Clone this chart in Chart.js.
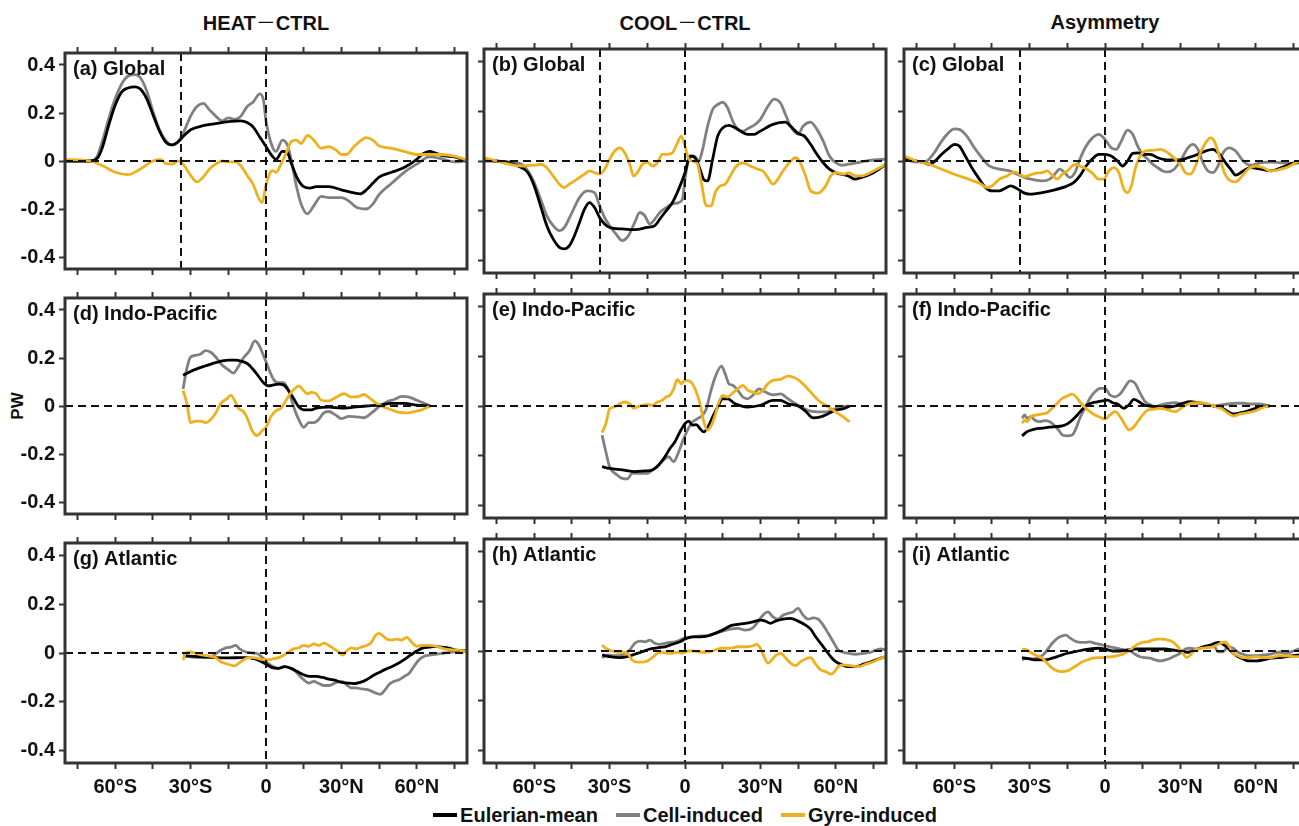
<!DOCTYPE html>
<html>
<head>
<meta charset="utf-8">
<script src="https://cdn.jsdelivr.net/npm/chart.js@4.4.1/dist/chart.umd.min.js"></script>
<style>
  body { margin: 0; width: 1299px; height: 826px; overflow: hidden; background: #fff; position: relative;
         font-family: "Liberation Sans", Arial, sans-serif; font-weight: bold; color: #111; }
  canvas { position: absolute; }
  .coltitle { position: absolute; top: 10px; width: 402px; text-align: center; font-size: 20px; line-height: 24px; }
  .coltitle .dash { font-family: "Noto Sans CJK SC", sans-serif; font-weight: normal; }
  #pw { position: absolute; left: -2px; top: 396px; width: 40px; text-align: center; font-size: 17px; line-height: 20px; transform: rotate(-90deg); }
  #legend { position: absolute; top: 803px; left: 385px; width: 600px; display: flex; justify-content: center; font-size: 20px; line-height: 24px; }
  #legend span.item { display: inline-flex; align-items: center; margin: 0 9px; }
  #legend span.sw { display: inline-block; width: 24px; height: 4px; margin-right: 3px; }
</style>
</head>
<body>
<div class="coltitle" style="left:65px">HEAT<span class="dash">－</span>CTRL</div>
<div class="coltitle" style="left:484px">COOL<span class="dash">－</span>CTRL</div>
<div class="coltitle" style="left:904px">Asymmetry</div>
<div id="pw">PW</div>
<div id="legend">
  <span class="item"><span class="sw" style="background:#000"></span>Eulerian-mean</span>
  <span class="item"><span class="sw" style="background:#808080"></span>Cell-induced</span>
  <span class="item"><span class="sw" style="background:#EDB120"></span>Gyre-induced</span>
</div>

<script>
// 経度ごとの熱輸送 [緯度, PW]
var heatGlobalEul = [[-80,0],[-70,0],[-67,0.013],[-65,0.06],[-62.5,0.153],[-60,0.233],[-57.5,0.287],[-55,0.304],[-52,0.309],[-50,0.30],[-47.5,0.26],[-45,0.193],[-42.5,0.127],[-40,0.08],[-37.5,0.067],[-35,0.08],[-32.5,0.107],[-30,0.13],[-25,0.147],[-20,0.156],[-15,0.164],[-10,0.167],[-7.5,0.16],[-5,0.14],[-2.5,0.10],[0,0.06],[2.5,0.02],[4,0.007],[6.5,0.04],[8.5,0.035],[10,-0.007],[12.5,-0.073],[15,-0.107],[17.5,-0.113],[20,-0.107],[25,-0.107],[30,-0.12],[35,-0.133],[37.5,-0.137],[40,-0.12],[42.5,-0.093],[45,-0.067],[50,-0.047],[55,-0.027],[60,0.007],[62.5,0.03],[65,0.04],[67.5,0.033],[70,0.023],[75,0.017],[80,0]];
var heatGlobalCell = [[-80,0],[-70,0],[-67.5,0.013],[-65,0.087],[-62.5,0.18],[-60,0.26],[-57.5,0.32],[-55,0.353],[-52,0.36],[-50,0.347],[-47.5,0.293],[-45,0.207],[-42.5,0.133],[-40,0.087],[-37.5,0.067],[-35,0.08],[-32.5,0.127],[-30,0.187],[-27.5,0.227],[-25,0.24],[-22.5,0.213],[-20,0.187],[-17.5,0.167],[-15,0.18],[-12.5,0.173],[-10,0.187],[-7.5,0.227],[-5,0.247],[-2.5,0.28],[-1,0.253],[0,0.167],[2.5,0.06],[4,0.04],[6.5,0.087],[8.5,0.067],[10,0.007],[12,-0.1],[14,-0.18],[16.5,-0.22],[19,-0.187],[22,-0.147],[25,-0.153],[30,-0.153],[33,-0.167],[36,-0.193],[40,-0.2],[42.5,-0.18],[45,-0.14],[50,-0.093],[55,-0.047],[60,-0.013],[65,0.017],[70,0.009],[75,-0.004],[80,0]];
var heatGlobalGyre = [[-80,0.007],[-70,0],[-65,-0.02],[-60,-0.047],[-55,-0.057],[-50,-0.033],[-45,0],[-42,0.007],[-40,-0.01],[-37.5,-0.013],[-35,0],[-32.5,-0.02],[-30,-0.06],[-27.5,-0.087],[-25,-0.067],[-22.5,-0.033],[-20,-0.013],[-17.5,0],[-15,-0.004],[-12.5,-0.004],[-10,-0.02],[-7.5,-0.06],[-5,-0.1],[-3,-0.153],[-1.5,-0.173],[0,-0.1],[2.5,-0.04],[4,-0.047],[6,-0.013],[8,0.033],[10,0.08],[12,0.087],[14,0.073],[16.5,0.107],[19,0.087],[22,0.053],[25,0.06],[28,0.044],[30,0.027],[32,0.027],[35,0.06],[38,0.087],[40,0.097],[42.5,0.087],[45,0.063],[50,0.053],[55,0.04],[60,0.027],[65,0.027],[70,0.027],[75,0.02],[80,0.004]];

var coolGlobalEul = [[-80,0.007],[-75,0],[-70,-0.007],[-65,-0.027],[-62.5,-0.047],[-60,-0.1],[-57.5,-0.18],[-55,-0.26],[-52.5,-0.313],[-50,-0.347],[-48,-0.353],[-46,-0.34],[-44,-0.3],[-42,-0.247],[-40,-0.193],[-38,-0.167],[-36,-0.187],[-34,-0.227],[-32,-0.253],[-30,-0.267],[-25,-0.273],[-20,-0.276],[-15,-0.267],[-12,-0.26],[-10,-0.233],[-7.5,-0.2],[-5,-0.167],[-2.5,-0.113],[0,-0.047],[2,0.02],[4,0.013],[6,-0.033],[7.5,-0.075],[9,-0.08],[11,0.007],[13,0.1],[15,0.133],[17.5,0.143],[20,0.133],[25,0.107],[27.5,0.107],[30,0.12],[35,0.147],[40,0.156],[42,0.14],[45,0.111],[47.5,0.1],[50,0.067],[52.5,0.027],[55,-0.007],[57.5,-0.033],[60,-0.047],[65,-0.06],[67.5,-0.073],[70,-0.067],[75,-0.047],[80,-0.013]];
var coolGlobalCell = [[-80,0],[-70,-0.004],[-65,-0.013],[-62.5,-0.04],[-60,-0.087],[-57.5,-0.153],[-55,-0.22],[-52.5,-0.26],[-50,-0.28],[-48,-0.267],[-45,-0.207],[-42,-0.147],[-39,-0.12],[-36,-0.127],[-34,-0.18],[-32,-0.227],[-30,-0.26],[-27.5,-0.293],[-25,-0.32],[-22.5,-0.3],[-20,-0.247],[-18,-0.207],[-16,-0.22],[-14,-0.253],[-12,-0.233],[-10,-0.207],[-7.5,-0.187],[-5,-0.173],[-2.5,-0.167],[-1,-0.153],[0,-0.073],[1.5,0.007],[3.5,0.02],[5.5,0],[7,0.047],[9,0.14],[11,0.207],[13,0.227],[15,0.236],[17,0.213],[19,0.16],[21,0.127],[23,0.12],[25,0.13],[28,0.147],[30,0.167],[33,0.22],[35.5,0.249],[38,0.233],[40,0.187],[42,0.14],[45,0.107],[47,0.14],[50,0.156],[52.5,0.127],[55,0.08],[57.5,0.02],[60,-0.007],[62.5,-0.017],[65,-0.013],[70,-0.004],[75,0.004],[80,0.007]];
var coolGlobalGyre = [[-80,0.013],[-75,0],[-70,-0.013],[-65,-0.02],[-60,-0.017],[-57.5,-0.013],[-55,-0.027],[-52.5,-0.06],[-50,-0.093],[-48,-0.107],[-46,-0.093],[-43,-0.073],[-40,-0.053],[-38,-0.04],[-36,-0.047],[-34,-0.053],[-32,-0.033],[-30,0.007],[-28,0.04],[-26,0.053],[-24,0.033],[-22,-0.013],[-20.5,-0.06],[-19,-0.047],[-17,-0.013],[-15,-0.004],[-13,-0.02],[-11,-0.007],[-9,0.027],[-7,0.027],[-5,0.033],[-3,0.073],[-1.5,0.1],[0,0.06],[1.5,0.007],[3,0],[5,-0.013],[6.5,-0.087],[8.5,-0.18],[10.5,-0.18],[12,-0.127],[14,-0.1],[16,-0.093],[18,-0.06],[20.5,-0.02],[23,-0.007],[26,-0.02],[29,-0.033],[31,-0.04],[33,-0.067],[35,-0.093],[37,-0.073],[39,-0.04],[41.5,-0.007],[44,0.013],[45.5,0],[48,-0.06],[50,-0.12],[53,-0.129],[56,-0.1],[58,-0.06],[60,-0.047],[63,-0.053],[65,-0.047],[68,-0.06],[70,-0.06],[75,-0.04],[80,-0.013]];

var asymGlobalEul = [[-80,0.013],[-75,0],[-72,-0.007],[-70,-0.013],[-68,-0.004],[-65,0.027],[-62,0.053],[-60,0.067],[-58,0.06],[-56,0.027],[-53,-0.027],[-50,-0.073],[-47.5,-0.107],[-45,-0.12],[-42,-0.12],[-40,-0.111],[-37.5,-0.1],[-35,-0.111],[-32.5,-0.127],[-30,-0.133],[-25,-0.127],[-20,-0.116],[-15,-0.1],[-12.5,-0.087],[-10,-0.06],[-7.5,-0.02],[-5,0.009],[-2.5,0.027],[0,0.027],[2.5,0.02],[5,0],[7,-0.02],[9,0],[11,0.031],[13,0.033],[15,0.027],[18,0.027],[21,0.013],[25,0.004],[30,0.004],[33,0.013],[36,0.023],[40,0.04],[43,0.047],[45,0.033],[48,-0.007],[50,-0.033],[52,-0.057],[55,-0.04],[58,-0.027],[62,-0.033],[66,-0.04],[70,-0.027],[75,-0.009],[80,-0.004]];
var asymGlobalCell = [[-80,0.007],[-75,-0.004],[-71,0],[-68,0.033],[-65,0.08],[-62,0.116],[-60,0.129],[-58,0.127],[-55,0.1],[-52,0.053],[-49,0.013],[-46,-0.02],[-42,-0.033],[-38,-0.04],[-35,-0.053],[-32,-0.067],[-28,-0.076],[-25,-0.08],[-22,-0.073],[-20,-0.053],[-18,-0.033],[-16,-0.047],[-14,-0.067],[-12,-0.047],[-10,0.007],[-7.5,0.06],[-5,0.093],[-2.5,0.107],[0,0.087],[2.5,0.053],[4.5,0.047],[6.5,0.08],[9,0.124],[11,0.107],[13,0.06],[15,0.027],[17,0.007],[19,-0.013],[21,-0.027],[23,-0.04],[25,-0.044],[27.5,-0.033],[30,0],[33,0.053],[35,0.067],[37,0.047],[39,-0.007],[41,-0.04],[43,-0.047],[45,-0.02],[47,0.033],[49.5,0.053],[52,0.04],[55,0],[58,-0.017],[62,-0.007],[66,-0.004],[70,-0.007],[75,-0.009],[80,0.007]];
var asymGlobalGyre = [[-80,0.02],[-75,0],[-70,-0.013],[-65,-0.033],[-60,-0.053],[-55,-0.071],[-50,-0.089],[-47,-0.107],[-45,-0.1],[-42,-0.073],[-39,-0.06],[-36,-0.044],[-34,-0.053],[-32,-0.063],[-30,-0.057],[-27.5,-0.049],[-25,-0.047],[-23,-0.04],[-21,-0.057],[-19,-0.073],[-17,-0.053],[-15,-0.04],[-13,-0.02],[-11.5,-0.013],[-10,-0.02],[-7.5,-0.031],[-5,-0.049],[-2.5,-0.073],[-0.5,-0.073],[1.5,-0.04],[3.5,-0.027],[5.5,-0.047],[7.5,-0.113],[9,-0.127],[10.5,-0.1],[12,-0.033],[14,0.02],[16,0.04],[19,0.043],[22,0.047],[25,0.033],[28,0.007],[30,-0.013],[32,-0.047],[34,-0.053],[36,-0.02],[38,0.033],[40.5,0.08],[42,0.093],[43.5,0.08],[45.5,0.02],[47.5,-0.047],[50,-0.08],[52,-0.084],[54,-0.067],[57,-0.033],[60,-0.02],[63,-0.027],[66,-0.04],[70,-0.033],[73,-0.023],[76,-0.007],[80,0]];

var heatIndoEul = [[-33,0.128],[-30,0.144],[-25,0.164],[-20,0.181],[-15,0.191],[-12,0.191],[-10,0.187],[-7.5,0.177],[-5,0.151],[-3,0.124],[-1,0.097],[1,0.084],[3,0.088],[5,0.091],[7,0.088],[9,0.064],[11,0.031],[13,-0.003],[15,-0.016],[18,-0.016],[20,-0.009],[25,-0.005],[30,-0.009],[35,-0.005],[40,0],[45,0.004],[50,0.011],[55,0.011],[60,0.004],[65,0]];
var heatIndoCell = [[-33,0.071],[-31.5,0.157],[-30,0.204],[-28,0.211],[-26,0.217],[-24,0.231],[-22,0.224],[-20,0.204],[-17.5,0.171],[-15,0.151],[-13,0.137],[-11,0.164],[-9,0.2],[-6.5,0.231],[-4.5,0.271],[-3,0.257],[-1,0.211],[1,0.157],[3,0.111],[5,0.097],[7,0.097],[9,0.064],[11,-0.003],[13,-0.056],[15,-0.089],[17,-0.069],[19,-0.069],[21,-0.056],[23,-0.029],[25,-0.023],[27.5,-0.036],[30,-0.053],[33,-0.043],[36,-0.045],[39,-0.049],[42,-0.029],[45,-0.003],[48,0.017],[51,0.027],[54,0.04],[57,0.037],[60,0.024],[63,0.011],[65.5,0]];
var heatIndoGyre = [[-33,0.064],[-31.5,0.011],[-30,-0.069],[-28,-0.063],[-26,-0.063],[-24,-0.069],[-22,-0.056],[-20,-0.029],[-18,0.011],[-15.5,0.031],[-14,0.044],[-12.5,0.024],[-11,-0.009],[-9,-0.023],[-7.5,-0.049],[-5.5,-0.103],[-3.5,-0.123],[-1.5,-0.103],[0,-0.089],[2,-0.043],[4,-0.019],[6,-0.009],[8,0.024],[10,0.057],[12,0.077],[13,0.084],[15,0.064],[16.5,0.051],[18,0.057],[20,0.051],[22,0.024],[25,0.021],[28,0.037],[31,0.051],[34,0.037],[37,0.04],[39,0.048],[41.5,0.031],[44,0.011],[47,-0.005],[50,-0.016],[53,-0.027],[56,-0.029],[59,-0.023],[62,-0.016],[65.5,0]];

var coolIndoEul = [[-33,-0.244],[-30,-0.251],[-25,-0.257],[-20,-0.264],[-16,-0.261],[-13,-0.257],[-10.5,-0.237],[-8,-0.204],[-6,-0.171],[-4,-0.144],[-2,-0.104],[0,-0.071],[1.5,-0.061],[3,-0.077],[4.5,-0.075],[6,-0.091],[7.5,-0.104],[9.5,-0.077],[11,-0.044],[13,-0.004],[15,0.029],[17,0.029],[20,0.009],[25,-0.004],[30,0.003],[35,0.023],[38,0.023],[41,0.009],[45,0],[48,-0.021],[51,-0.048],[54,-0.044],[57,-0.031],[60,-0.017],[63,-0.011],[65.5,0]];
var coolIndoCell = [[-33,-0.117],[-31.5,-0.184],[-30,-0.244],[-27,-0.277],[-25,-0.291],[-23,-0.293],[-21,-0.271],[-19,-0.271],[-17,-0.271],[-15,-0.271],[-13,-0.257],[-11,-0.244],[-8.5,-0.217],[-6.5,-0.204],[-4.5,-0.224],[-3,-0.197],[-1,-0.144],[1,-0.097],[3,-0.064],[5,-0.051],[7,-0.037],[8.5,-0.011],[10,0.049],[12,0.116],[14.5,0.16],[16,0.129],[17.5,0.089],[19,0.083],[21,0.063],[23,0.036],[25,0.029],[27,0.043],[29.5,0.069],[32,0.056],[35,0.045],[38,0.049],[41,0.029],[44,0.009],[47,-0.008],[50,-0.021],[53,-0.024],[56,-0.024],[59,-0.013],[62,-0.004],[65,0]];
var coolIndoGyre = [[-33,-0.107],[-31.5,-0.071],[-30,-0.011],[-28,-0.004],[-26,0.009],[-24,0.016],[-22,0.009],[-20.5,-0.008],[-19,-0.004],[-17,0.003],[-15,0.005],[-13,0.003],[-11,0.016],[-9,0.023],[-7.5,0.036],[-6,0.043],[-4.5,0.069],[-3,0.107],[-1.5,0.089],[0,0.103],[2,0.099],[4,0.069],[6,0.009],[7.5,-0.064],[9,-0.097],[10.5,-0.077],[12,-0.037],[13.5,0.016],[15,0.043],[17,0.036],[19,0.053],[21,0.069],[23,0.083],[25,0.063],[27,0.056],[29,0.049],[31,0.063],[33,0.089],[35,0.103],[38,0.107],[41,0.12],[44,0.112],[47,0.089],[50,0.056],[53,0.023],[56,0.003],[59,-0.017],[62,-0.037],[65.5,-0.064]];

var asymIndoEul = [[-33,-0.12],[-31,-0.103],[-28,-0.093],[-25,-0.089],[-22,-0.085],[-20,-0.083],[-17,-0.08],[-15,-0.072],[-13,-0.056],[-11,-0.036],[-9,-0.013],[-7,0.004],[-5,0.013],[-3,0.017],[-1,0.021],[1,0.024],[3,0.013],[5,0.008],[7.5,-0.009],[9.5,0.004],[11.5,0.027],[13.5,0.017],[15.5,0.004],[18,0],[21,-0.003],[25,-0.005],[28,0],[31,0.011],[34,0.017],[37,0.013],[40,0.008],[43,0],[46,-0.005],[49,-0.023],[51,-0.032],[54,-0.027],[57,-0.019],[60,-0.009],[63,-0.003],[65.5,0]];
var asymIndoCell = [[-33,-0.049],[-32,-0.036],[-31,-0.049],[-29.5,-0.043],[-28,-0.056],[-26,-0.063],[-24,-0.059],[-22,-0.063],[-20,-0.08],[-18.5,-0.096],[-17,-0.116],[-15,-0.12],[-13,-0.116],[-11.5,-0.089],[-10,-0.049],[-8,-0.009],[-6,0.031],[-4,0.057],[-2,0.071],[0,0.071],[2,0.044],[4,0.037],[6,0.048],[8,0.077],[10,0.101],[12,0.091],[14,0.051],[16,0.017],[18,0.004],[20,-0.005],[22,0.004],[25,0.011],[28,0.013],[31,0.008],[34,0.013],[37,0.011],[40,0.008],[43,0],[46,0.004],[49,0.008],[52,0.011],[55,0.011],[58,0.008],[61,0.008],[65.5,0]];
var asymIndoGyre = [[-33,-0.069],[-32,-0.056],[-31,-0.063],[-29.5,-0.043],[-27,-0.036],[-25,-0.032],[-23,-0.027],[-21,-0.009],[-19,0.011],[-17,0.031],[-15,0.04],[-13,0.048],[-11.5,0.037],[-10,0.017],[-8,-0.005],[-6,-0.023],[-4,-0.036],[-2,-0.045],[0,-0.053],[2,-0.036],[4,-0.023],[6,-0.043],[8,-0.076],[9.5,-0.096],[11,-0.089],[13,-0.063],[15,-0.036],[17,-0.016],[19,-0.013],[22,-0.009],[25,-0.016],[28,-0.023],[31,-0.003],[34,0.011],[37,0.013],[40,0.011],[43,0],[46,-0.009],[49,-0.029],[51,-0.04],[54,-0.032],[57,-0.027],[60,-0.019],[63,-0.005],[65.5,0]];

var heatAtlEul = [[-33,-0.009],[-30,-0.013],[-25,-0.016],[-20,-0.019],[-15,-0.02],[-10,-0.019],[-7,-0.019],[-5,-0.023],[-3,-0.029],[0,-0.045],[2.5,-0.06],[5,-0.063],[7.5,-0.056],[10,-0.063],[12.5,-0.076],[15,-0.089],[17.5,-0.096],[20,-0.096],[22.5,-0.1],[25,-0.107],[27.5,-0.112],[30,-0.12],[32.5,-0.123],[35,-0.125],[37.5,-0.12],[40,-0.109],[42.5,-0.093],[45,-0.08],[47.5,-0.067],[50,-0.056],[52.5,-0.043],[55,-0.027],[57.5,-0.009],[60,0.008],[62.5,0.021],[65,0.024],[67.5,0.027],[70,0.024],[72.5,0.021],[75,0.013],[78,0.008],[80,0.008]];
var heatAtlCell = [[-33,-0.013],[-30,-0.016],[-25,-0.019],[-22,-0.016],[-20,-0.003],[-18,0.011],[-16,0.021],[-14,0.024],[-12,0.031],[-10.5,0.017],[-8,0.004],[-5,0],[-3,-0.005],[-1,-0.023],[1,-0.043],[3,-0.056],[5,-0.063],[7,-0.056],[9,-0.059],[11,-0.069],[13,-0.089],[15,-0.109],[17,-0.123],[19,-0.116],[21,-0.125],[23,-0.133],[25,-0.133],[27,-0.125],[30,-0.116],[32,-0.129],[34,-0.143],[36,-0.143],[38,-0.147],[40,-0.149],[42,-0.156],[44,-0.165],[45.5,-0.169],[47,-0.156],[49,-0.129],[51,-0.116],[53,-0.109],[55,-0.096],[57,-0.083],[59,-0.053],[61,-0.027],[63,-0.013],[65,-0.009],[68,-0.005],[71,0],[74,0.004],[77,0.008],[80,0.011]];
var heatAtlGyre = [[-33,-0.029],[-32,0],[-30,0.004],[-27.5,-0.003],[-25,-0.009],[-22.5,-0.013],[-20,-0.019],[-18,-0.036],[-16,-0.043],[-14,-0.049],[-12.5,-0.053],[-11,-0.043],[-9,-0.029],[-7,-0.019],[-5,-0.019],[-3,-0.023],[-1,-0.027],[1,-0.027],[3,-0.023],[5,-0.019],[7,-0.009],[9,0.004],[11,0.017],[13,0.021],[15,0.031],[17,0.027],[19,0.037],[21,0.031],[23,0.04],[25,0.031],[27,0.017],[29,0.004],[30.5,-0.009],[32,0.008],[34,0.021],[36,0.017],[38,0.024],[40,0.031],[42,0.044],[43.5,0.071],[45,0.08],[46.5,0.071],[48,0.057],[50,0.053],[52,0.057],[54,0.053],[56,0.064],[58,0.044],[60,0.027],[62,0.031],[65,0.031],[68,0.027],[71,0.017],[74,0.013],[77,0.011],[80,0.004]];

var coolAtlEul = [[-33,-0.016],[-30,-0.023],[-26,-0.027],[-23,-0.023],[-20,-0.013],[-17,-0.003],[-14,0.008],[-11,0.013],[-8,0.017],[-5,0.027],[-2,0.037],[0,0.048],[3,0.057],[6,0.057],[9,0.061],[12,0.071],[15,0.084],[18,0.101],[21,0.107],[24,0.111],[27,0.117],[30,0.124],[32,0.12],[34,0.111],[36,0.12],[39,0.128],[42,0.131],[45,0.12],[48,0.104],[50,0.088],[52,0.057],[54,0.031],[56,0.004],[58,-0.023],[60,-0.043],[62,-0.053],[65,-0.063],[68,-0.063],[71,-0.053],[74,-0.043],[77,-0.032],[80,-0.023]];
var coolAtlCell = [[-33,-0.027],[-31,-0.016],[-28,-0.019],[-25,-0.016],[-22,0.004],[-20,0.031],[-18,0.04],[-16,0.037],[-14,0.044],[-12,0.031],[-10,0.027],[-8,0.031],[-6,0.035],[-4,0.037],[-2,0.044],[0,0.053],[3,0.057],[6,0.061],[9,0.061],[12,0.071],[15,0.08],[18,0.088],[21,0.091],[24,0.084],[27,0.093],[29,0.117],[31,0.144],[33,0.157],[35,0.137],[37,0.128],[39,0.144],[41,0.151],[43,0.157],[45,0.171],[47,0.144],[49,0.128],[51,0.133],[53,0.128],[55,0.104],[57,0.071],[59,0.037],[61,0.004],[63,-0.005],[65,-0.009],[68,-0.013],[71,-0.009],[74,-0.005],[76,0.004],[78,0.008],[80,0.004]];
var coolAtlGyre = [[-33,0.024],[-31.5,0.011],[-29,0],[-27,-0.005],[-25,-0.005],[-23,-0.009],[-21,-0.036],[-19,-0.045],[-17,-0.045],[-15,-0.04],[-13,-0.027],[-11,-0.009],[-9,-0.005],[-7,-0.009],[-5,-0.009],[-3,-0.005],[-1,-0.009],[1,0],[3,0],[5,-0.003],[8,-0.005],[11,0],[13,0.008],[15,0.011],[17,0.011],[19,0.013],[21,0.017],[23,0.017],[25,0.017],[27,0.021],[28.5,0.027],[30,0.011],[31.5,-0.023],[33,-0.049],[34.5,-0.036],[36,-0.019],[38,-0.009],[40,-0.027],[42,-0.049],[44,-0.059],[46,-0.043],[48,-0.032],[50,-0.027],[52,-0.053],[54,-0.076],[56,-0.083],[58,-0.093],[59.5,-0.083],[61,-0.063],[63,-0.056],[66,-0.059],[69,-0.063],[72,-0.053],[75,-0.043],[78,-0.029],[80,-0.023]];

var asymAtlEul = [[-33,-0.027],[-30,-0.032],[-27,-0.036],[-24,-0.036],[-21,-0.029],[-18,-0.019],[-15,-0.009],[-12,-0.003],[-9,0.004],[-6,0.008],[-3,0.011],[0,0.008],[3,0],[6,0],[9,0.004],[12,0.008],[15,0.008],[18,0.008],[21,0.008],[24,0.008],[27,0.004],[30,0],[33,-0.005],[36,0.004],[39,0.017],[42,0.024],[45,0.035],[47,0.027],[49,0.011],[51,-0.009],[53,-0.023],[55,-0.032],[57,-0.04],[60,-0.04],[63,-0.036],[66,-0.029],[69,-0.027],[72,-0.023],[75,-0.019],[78,-0.016],[80,-0.015]];
var asymAtlCell = [[-33,-0.036],[-31.5,-0.029],[-29,-0.032],[-27,-0.027],[-25,-0.019],[-23,0.004],[-21,0.031],[-19,0.051],[-17,0.061],[-15.5,0.064],[-14,0.053],[-12,0.04],[-10,0.035],[-8,0.035],[-6,0.037],[-4,0.031],[-2,0.027],[0,0.021],[2,0.017],[4,0.013],[6,0.008],[8,0.004],[10,0],[12,-0.013],[14,-0.023],[16,-0.027],[18,-0.029],[20,-0.036],[22,-0.04],[24,-0.036],[26,-0.029],[28,-0.019],[30,-0.009],[32,0.008],[34,0.011],[36,0.008],[38,0.011],[40,0.017],[42,0.017],[43.5,0.017],[45,-0.003],[47,-0.003],[49,0.017],[51,0.011],[53,-0.005],[55,-0.013],[57,-0.019],[60,-0.019],[63,-0.016],[66,-0.013],[69,-0.005],[72,-0.009],[75,0],[78,0.011],[80,0.015]];
var asymAtlGyre = [[-33,0.008],[-31,0.004],[-29,-0.009],[-27,-0.019],[-25,-0.029],[-23,-0.049],[-21,-0.069],[-19,-0.08],[-17,-0.083],[-15,-0.08],[-13,-0.069],[-11,-0.056],[-9,-0.043],[-7,-0.036],[-5,-0.029],[-3,-0.027],[-1,-0.027],[1,-0.024],[3,-0.023],[5,-0.019],[7,-0.013],[9,-0.003],[11,0.013],[13,0.027],[15,0.035],[17,0.037],[19,0.044],[21,0.048],[23,0.048],[25,0.044],[27,0.037],[29,0.017],[31,-0.009],[32.5,-0.027],[34,-0.016],[35.5,0.004],[37,0.008],[40,0.013],[43,0.017],[46,0.031],[48,0.037],[49.5,0.017],[51,-0.009],[53,-0.019],[55,-0.027],[57,-0.027],[60,-0.023],[63,-0.027],[66,-0.027],[69,-0.019],[72,-0.019],[75,-0.023],[78,-0.023],[80,-0.023]];

var xTicks = [-75, -60, -45, -30, -15, 0, 15, 30, 45, 60, 75];
var yTicks = [-0.4, -0.2, 0, 0.2, 0.4];
var panelTitles = ["(a) Global", "(b) Global", "(c) Global",
                   "(d) Indo-Pacific", "(e) Indo-Pacific", "(f) Indo-Pacific",
                   "(g) Atlantic", "(h) Atlantic", "(i) Atlantic"];
var panelData = [
    [heatGlobalEul, heatGlobalCell, heatGlobalGyre],
    [coolGlobalEul, coolGlobalCell, coolGlobalGyre],
    [asymGlobalEul, asymGlobalCell, asymGlobalGyre],
    [heatIndoEul, heatIndoCell, heatIndoGyre],
    [coolIndoEul, coolIndoCell, coolIndoGyre],
    [asymIndoEul, asymIndoCell, asymIndoGyre],
    [heatAtlEul, heatAtlCell, heatAtlGyre],
    [coolAtlEul, coolAtlCell, coolAtlGyre],
    [asymAtlEul, asymAtlCell, asymAtlGyre]
];

var colLeft = [65, 484, 904];
var rowTop = [49, 294, 539];
var PANEL_W = 402, PANEL_H = 224;
var PAD_L = 62, PAD_T = 12, PAD_R = 10;
var FONT = "'Liberation Sans', Arial, sans-serif";

function latLabel(v) {
    if (v === 0) return "0";
    if (v % 30 !== 0) return "";
    return v < 0 ? (-v) + "°S" : v + "°N";
}

// 枠線・破線・パネル名
var framePlugin = {
    id: "frame",
    afterDatasetsDraw: function (chart, args, opts) {
        var ctx = chart.ctx;
        var a = chart.chartArea;
        var x = chart.scales.x, y = chart.scales.y;
        ctx.save();
        ctx.strokeStyle = "#111";
        ctx.lineWidth = 2;
        ctx.setLineDash([8, 5]);
        var y0 = Math.round(y.getPixelForValue(0));
        ctx.beginPath();
        ctx.moveTo(a.left, y0);
        ctx.lineTo(a.right, y0);
        var lines = opts.row === 0 ? [0, -34] : [0];
        lines.forEach(function (v) {
            var px = Math.round(x.getPixelForValue(v));
            ctx.moveTo(px, a.top);
            ctx.lineTo(px, a.bottom);
        });
        ctx.stroke();
        ctx.setLineDash([]);
        ctx.lineWidth = 3;
        ctx.strokeStyle = "#333";
        ctx.strokeRect(a.left, a.top, a.right - a.left, a.bottom - a.top);
        ctx.fillStyle = "#111";
        ctx.font = "bold 20px " + FONT;
        ctx.textBaseline = "alphabetic";
        ctx.fillText(opts.title, a.left + 8, a.top + 22);
        ctx.restore();
    }
};

var gridOpts = {
    drawOnChartArea: false,
    drawTicks: true,
    tickLength: 6,
    tickWidth: 2,
    tickColor: "#333"
};

panelData.forEach(function (series, i) {
    var row = Math.floor(i / 3), col = i % 3;
    var isBottom = row === 2;
    var padB = isBottom ? 56 : 12;
    var canvas = document.createElement("canvas");
    canvas.width = PAD_L + PANEL_W + PAD_R;
    canvas.height = PAD_T + PANEL_H + padB;
    canvas.style.left = (colLeft[col] - PAD_L) + "px";
    canvas.style.top = (rowTop[row] - PAD_T) + "px";
    document.body.appendChild(canvas);

    var toXY = function (arr) {
        return arr.map(function (p) { return { x: p[0], y: p[1] }; });
    };
    var lineStyle = function (label, data, color) {
        return {
            label: label,
            data: toXY(data),
            borderColor: color,
            borderWidth: 2.8,
            pointRadius: 0,
            cubicInterpolationMode: "monotone",
            fill: false
        };
    };

    new Chart(canvas, {
        type: "line",
        data: {
            datasets: [
                lineStyle("Gyre-induced", series[2], "#EDB120"),
                lineStyle("Eulerian-mean", series[0], "#000000"),
                lineStyle("Cell-induced", series[1], "#808080")
            ]
        },
        options: {
            responsive: false,
            animation: false,
            devicePixelRatio: 1,
            layout: { padding: { left: 0, top: 0, right: PAD_R, bottom: 0 } },
            plugins: {
                legend: { display: false },
                tooltip: { enabled: false },
                frame: { title: panelTitles[i], row: row }
            },
            scales: {
                x: {
                    type: "linear",
                    position: "bottom",
                    min: -80,
                    max: 80,
                    afterBuildTicks: function (s) { s.ticks = xTicks.map(function (v) { return { value: v }; }); },
                    afterFit: function (s) { s.height = padB; },
                    border: { display: false },
                    grid: gridOpts,
                    ticks: {
                        display: isBottom,
                        autoSkip: false,
                        maxRotation: 0,
                        padding: 6,
                        color: "#111",
                        font: { family: FONT, size: 20, weight: "bold" },
                        callback: function (v) { return latLabel(v); }
                    }
                },
                xTop: {
                    type: "linear",
                    position: "top",
                    min: -80,
                    max: 80,
                    afterBuildTicks: function (s) { s.ticks = xTicks.map(function (v) { return { value: v }; }); },
                    afterFit: function (s) { s.height = PAD_T; },
                    border: { display: false },
                    grid: gridOpts,
                    ticks: { display: false }
                },
                y: {
                    type: "linear",
                    position: "left",
                    min: -0.45,
                    max: 0.45,
                    afterBuildTicks: function (s) { s.ticks = yTicks.map(function (v) { return { value: v }; }); },
                    afterFit: function (s) { s.width = PAD_L; },
                    border: { display: false },
                    grid: gridOpts,
                    ticks: {
                        display: col === 0,
                        padding: 4,
                        color: "#111",
                        font: { family: FONT, size: 20, weight: "bold" },
                        callback: function (v) { return v === 0 ? "0" : v.toFixed(1); }
                    }
                }
            }
        },
        plugins: [framePlugin]
    });
});
</script>
</body>
</html>
